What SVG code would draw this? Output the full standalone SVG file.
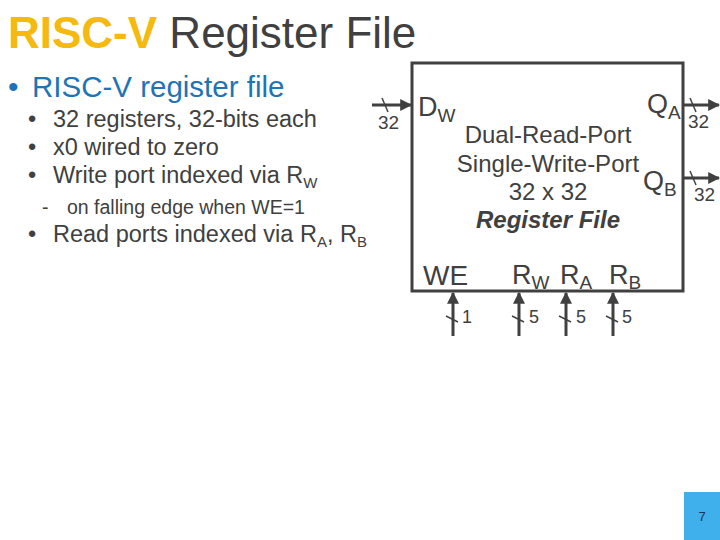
<svg xmlns="http://www.w3.org/2000/svg" width="720" height="540" viewBox="0 0 720 540">
<defs>
<marker id="ah" viewBox="0 0 10 10" refX="9" refY="5" markerWidth="4" markerHeight="4" markerUnits="strokeWidth" orient="auto"><path d="M0,0 L10,5 L0,10 z" fill="#404040"/></marker>
<style>
text{font-family:"Liberation Sans",Arial,sans-serif;fill:#404040}
.w{stroke:#404040;stroke-width:3;fill:none}
.s{stroke:#404040;stroke-width:1.5;fill:none}
.b{font-size:23.5px}
.sub{font-size:15px}
.lbl{font-size:19px}
.n{font-size:18px}
.c{font-size:24px;text-anchor:middle}
.p{font-size:27px}
.ps{font-size:19px}
</style>
</defs>
<rect width="720" height="540" fill="#ffffff"/>
<g id="title">
<text x="8" y="48" font-size="44"><tspan fill="#F5B90F" style="fill:#F5B90F" font-weight="bold">RISC-V</tspan> Register File</text>
</g>
<g id="bullets">
<text x="8" y="97" font-size="30" style="fill:#1E74B6">•</text>
<text x="32" y="97" font-size="29.5" style="fill:#1E74B6">RISC-V register file</text>
<text x="28" y="127" class="b">•</text>
<text x="53" y="127" class="b">32 registers, 32-bits each</text>
<text x="28" y="155" class="b">•</text>
<text x="53" y="155" class="b">x0 wired to zero</text>
<text x="28" y="183" class="b">•</text>
<text x="53" y="183" class="b">Write port indexed via R<tspan class="sub" dy="5">W</tspan></text>
<text x="42" y="214" font-size="19.5">-</text>
<text x="67" y="214" font-size="19.5">on falling edge when WE=1</text>
<text x="28" y="242" class="b">•</text>
<text x="53" y="242" class="b">Read ports indexed via R<tspan class="sub" dy="5">A</tspan><tspan dy="-5">, R</tspan><tspan class="sub" dy="5">B</tspan></text>
</g>
<g id="regfile">
<rect x="412" y="63" width="271" height="228" class="w"/>
<text x="418" y="116" font-size="27">D<tspan font-size="19" dy="6">W</tspan></text>
<text x="647" y="113" font-size="27">Q<tspan font-size="19" dy="6">A</tspan></text>
<text x="643" y="190" font-size="27">Q<tspan font-size="19" dy="6">B</tspan></text>
<text x="548" y="143" class="c">Dual-Read-Port</text>
<text x="548" y="172" class="c">Single-Write-Port</text>
<text x="548" y="200" class="c">32 x 32</text>
<text x="548" y="228" class="c" font-weight="bold" font-style="italic">Register File</text>
<text x="423" y="285" font-size="28">WE</text>
<text x="512" y="284" class="p">R<tspan class="ps" dy="5">W</tspan></text>
<text x="560" y="284" class="p">R<tspan class="ps" dy="5">A</tspan></text>
<text x="609" y="284" class="p">R<tspan class="ps" dy="5">B</tspan></text>
</g>
<g id="connectors">
<line x1="372" y1="105" x2="411" y2="105" class="w" marker-end="url(#ah)"/>
<line x1="382" y1="98" x2="388" y2="112" class="s"/>
<text x="378" y="129" class="lbl">32</text>
<line x1="684" y1="105" x2="719" y2="105" class="w" marker-end="url(#ah)"/>
<line x1="690" y1="98" x2="696" y2="112" class="s"/>
<text x="688" y="128" class="lbl">32</text>
<line x1="684" y1="178" x2="719" y2="178" class="w" marker-end="url(#ah)"/>
<line x1="690" y1="171" x2="696" y2="185" class="s"/>
<text x="694" y="201" class="lbl">32</text>
<line x1="453" y1="336" x2="453" y2="293" class="w" marker-end="url(#ah)"/>
<line x1="446" y1="316" x2="458" y2="322" class="s"/>
<text x="462" y="323" class="n">1</text>
<line x1="519" y1="336" x2="519" y2="293" class="w" marker-end="url(#ah)"/>
<line x1="512" y1="316" x2="524" y2="322" class="s"/>
<text x="529" y="323" class="n">5</text>
<line x1="566" y1="336" x2="566" y2="293" class="w" marker-end="url(#ah)"/>
<line x1="559" y1="316" x2="571" y2="322" class="s"/>
<text x="576" y="323" class="n">5</text>
<line x1="613" y1="336" x2="613" y2="293" class="w" marker-end="url(#ah)"/>
<line x1="606" y1="316" x2="618" y2="322" class="s"/>
<text x="622" y="323" class="n">5</text>
</g>
<g id="pagenum">
<rect x="684" y="492" width="36" height="48" fill="#3FB0EC"/>
<text x="702" y="521" font-size="13" text-anchor="middle" style="fill:#1d3550">7</text>
</g>
</svg>
